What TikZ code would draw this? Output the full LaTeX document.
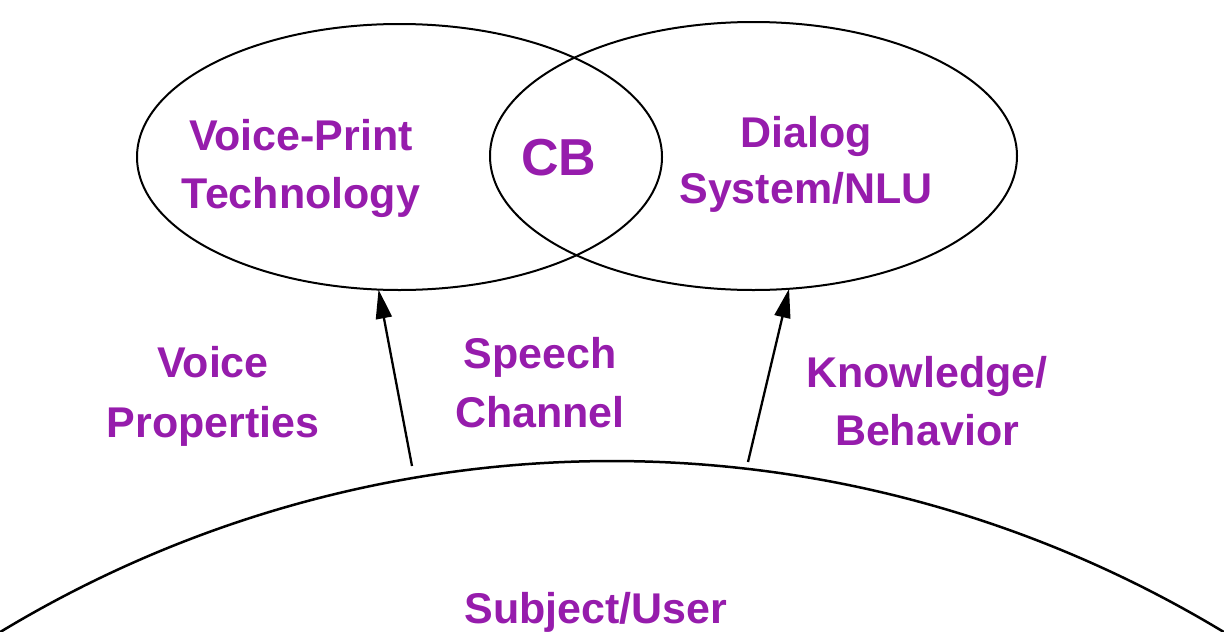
\documentclass[tikz,border=0pt]{standalone}
\usepackage{fontspec}
\setmainfont{Liberation Sans}
\usetikzlibrary{arrows.meta,shapes.geometric}
\definecolor{labelpurple}{RGB}{150,28,172}
\newcommand{\lblfont}[1]{\bfseries\fontsize{43}{#1}\selectfont}
\tikzset{
  circlebox/.style={draw=black, line width=2pt, shape=ellipse, inner sep=0pt, outer sep=0pt},
  lbl/.style={text=labelpurple, font=\lblfont{58}, align=center, inner sep=0pt, anchor=base},
  bigl/.style={text=labelpurple, font=\bfseries\fontsize{52}{60}\selectfont, inner sep=0pt, anchor=base},
  feed/.style={draw=black, line width=2.3pt, -{Triangle[length=29pt,width=16pt]}},
  ground/.style={draw=black, line width=2.5pt}
}
\begin{document}
\begin{tikzpicture}[x=1pt, y=-1pt]
  \useasboundingbox (0,0) rectangle (1224,632);

  % the two overlapping technology areas
  \node[circlebox, minimum width=525pt, minimum height=266pt] (vp) at (399.5,157) {};
  \node[circlebox, minimum width=527pt, minimum height=268pt] (ds) at (753.5,156) {};

  % the user, as a wide arc along the bottom
  \draw[ground] (612,1685) ++(-121:1200 and 1224)
    arc[start angle=-121, end angle=-59, x radius=1200, y radius=1224];

  % labels (anchored at the baseline of their last line)
  \node[lbl] (vptext) at (301,208) {Voice-Print\\Technology};
  \node[bigl] (cb) at (559,175) {CB};
  \node[lbl, font=\lblfont{56}] (dstext) at (806,203) {Dialog\\System/NLU};
  \node[lbl, font=\lblfont{60}] (voice) at (213,437) {Voice\\Properties};
  \node[lbl, font=\lblfont{59}] (speech) at (540,427) {Speech\\Channel};
  \node[lbl] (know) at (927,445) {Knowledge/\\Behavior};
  \node[lbl] (user) at (596,623) {Subject/User};

  % feeds from the user up to each area
  \coordinate (vpfoot) at (412,466);
  \coordinate (dsfoot) at (748,462);
  \draw[feed] (vpfoot) -- (vp.-99);
  \draw[feed] (dsfoot) -- (ds.-75.5);
\end{tikzpicture}
\end{document}
